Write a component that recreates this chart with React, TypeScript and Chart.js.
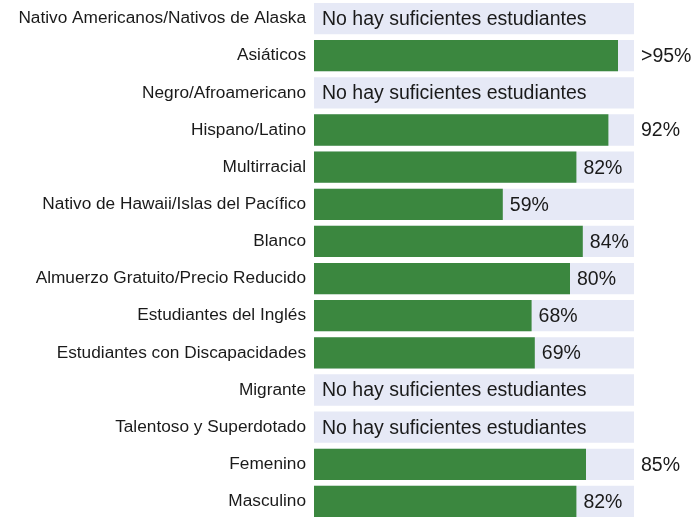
import React, { useEffect, useRef } from "react";
import { Chart, registerables } from "chart.js";

Chart.register(...registerables);

const categories: string[] = [
  "Nativo Americanos/Nativos de Alaska",
  "Asiáticos",
  "Negro/Afroamericano",
  "Hispano/Latino",
  "Multirracial",
  "Nativo de Hawaii/Islas del Pacífico",
  "Blanco",
  "Almuerzo Gratuito/Precio Reducido",
  "Estudiantes del Inglés",
  "Estudiantes con Discapacidades",
  "Migrante",
  "Talentoso y Superdotado",
  "Femenino",
  "Masculino",
];

const values: (number | null)[] = [null, 95, null, 92, 82, 59, 84, 80, 68, 69, null, null, 85, 82];
const valueLabels: string[] = ["", ">95%", "", "92%", "82%", "59%", "84%", "80%", "68%", "69%", "", "", "85%", "82%"];
const backgroundValues: number[] = categories.map(() => 100);
const noDataText = "No hay suficientes estudiantes";

const GREEN = "#3b873f";
const LAVENDER = "#e6e9f6";
const FONT = "'Liberation Sans', Arial, sans-serif";

const labelPlugin = {
  id: "valueLabels",
  afterDatasetsDraw(chart: any) {
    const ctx = chart.ctx;
    const area = chart.chartArea;
    const meta = chart.getDatasetMeta(1);
    ctx.save();
    ctx.font = `19.5px ${FONT}`;
    ctx.fillStyle = "#1a1a1a";
    ctx.textBaseline = "middle";
    ctx.textAlign = "left";
    meta.data.forEach((bar: any, i: number) => {
      const v = values[i];
      const y = bar.y;
      if (v === null) {
        ctx.fillText(noDataText, area.left + 8, y + 1);
        return;
      }
      const text = valueLabels[i];
      const w = ctx.measureText(text).width;
      let x = bar.x + 7;
      if (x + w > area.right - 3) x = area.right + 7;
      ctx.fillText(text, x, y + 1);
    });
    ctx.restore();
  },
};

export default function App() {
  const ref = useRef<HTMLCanvasElement | null>(null);
  useEffect(() => {
    if (!ref.current) return;
    const chart = new Chart(ref.current, {
      type: "bar",
      data: {
        labels: categories,
        datasets: [
          {
            data: backgroundValues,
            backgroundColor: LAVENDER,
            grouped: false,
            order: 2,
            barPercentage: 0.843,
            categoryPercentage: 1,
          },
          {
            data: values,
            backgroundColor: GREEN,
            grouped: false,
            order: 1,
            barPercentage: 0.843,
            categoryPercentage: 1,
          },
        ] as any,
      },
      options: {
        indexAxis: "y",
        animation: false,
        responsive: false,
        devicePixelRatio: 1,
        layout: { padding: { left: 0, right: 64, top: 0, bottom: 0 } },
        plugins: { legend: { display: false }, tooltip: { enabled: false } },
        scales: {
          x: { display: false, min: 0, max: 100 },
          y: {
            grid: { display: false, drawTicks: false },
            border: { display: false },
            ticks: {
              padding: 8,
              color: "#1a1a1a",
              font: { family: FONT, size: 17.25 },
              autoSkip: false,
            },
            afterFit: (scale: any) => {
              scale.width = 314;
              scale.paddingTop = 0;
              scale.paddingBottom = 0;
            },
          },
        },
      },
      plugins: [labelPlugin],
    });
    return () => chart.destroy();
  }, []);
  return (
    <div style={{ position: "fixed", left: 0, top: 0, width: 698, height: 517, overflow: "hidden", background: "#fff" }}>
      <canvas ref={ref} width={698} height={520} style={{ display: "block" }} />
    </div>
  );
}
